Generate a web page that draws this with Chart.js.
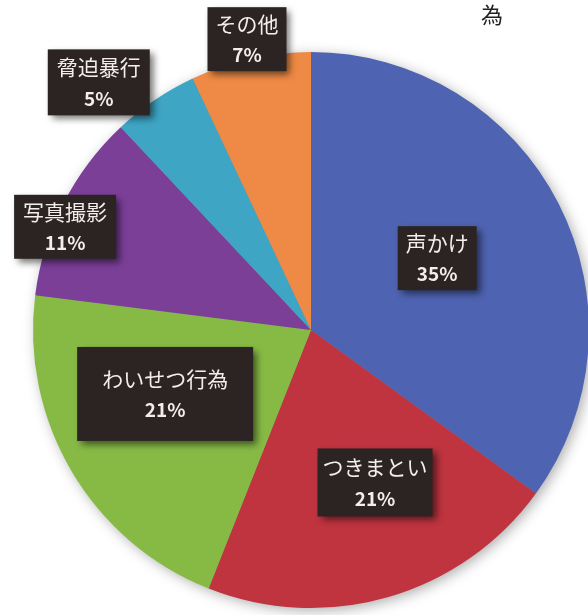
<!DOCTYPE html>
<html lang="ja">
<head>
<meta charset="utf-8">
<title>被害内容の内訳</title>
<script src="https://cdn.jsdelivr.net/npm/chart.js@4.4.1/dist/chart.umd.min.js"></script>
<style>
    html, body { margin: 0; padding: 0; background: #ffffff; overflow: hidden; }
    #wrap { position: relative; width: 588px; height: 615px; }
</style>
</head>
<body>
<div id="wrap"><canvas id="pieChart" width="588" height="615"></canvas></div>
<script>
// Data (clockwise from 12 o'clock)
const categories = ['声かけ', 'つきまとい', 'わいせつ行為', '写真撮影', '脅迫暴行', 'その他'];
const shares = [35, 21, 21, 11, 5, 7];
const sliceColors = ['#4e63b1', '#bf343f', '#87ba45', '#7b3f98', '#3ea5c4', '#ee8a45'];

// Label placement: distance from centre along the slice's mid-angle, then a pixel nudge
const labelRadius = [145, 165, 159, 267, 326, 298];
const labelNudge = [[-3, -6], [18, -6], [-9, -17], [-8, 18], [-29, 22], [1, 0]];
const labelPad = [[8, 0], [5, 2], [25, 15], [9, 0], [9, 1], [8, 0]];

const FONT = '"Noto Sans CJK JP", "Noto Sans", sans-serif';

// Soft shadow behind the whole pie
const pieShadow = {
    id: 'pieShadow',
    beforeDatasetsDraw(chart) {
        const arc = chart.getDatasetMeta(0).data[0];
        if (!arc) return;
        const ctx = chart.ctx;
        ctx.save();
        ctx.shadowColor = 'rgba(0,0,0,0.35)';
        ctx.shadowBlur = 14;
        ctx.shadowOffsetX = 3;
        ctx.shadowOffsetY = 3;
        ctx.fillStyle = '#888';
        ctx.beginPath();
        ctx.arc(arc.x, arc.y, arc.outerRadius - 1, 0, Math.PI * 2);
        ctx.fill();
        ctx.restore();
    }
};

// Dark boxed data labels like the original
const boxLabels = {
    id: 'boxLabels',
    afterDatasetsDraw(chart) {
        const ctx = chart.ctx;
        const meta = chart.getDatasetMeta(0);
        const total = shares.reduce((a, b) => a + b, 0);

        meta.data.forEach((arc, i) => {
            const mid = (arc.startAngle + arc.endAngle) / 2;
            const cx = arc.x + Math.cos(mid) * labelRadius[i] + labelNudge[i][0];
            const cy = arc.y + Math.sin(mid) * labelRadius[i] + labelNudge[i][1];

            const name = categories[i];
            const pct = Math.round(shares[i] / total * 100) + '%';

            ctx.save();
            ctx.font = '21px ' + FONT;
            const w1 = ctx.measureText(name).width;
            ctx.font = 'bold 19px ' + FONT;
            const w2 = ctx.measureText(pct).width;
            const boxW = Math.max(w1, w2) + labelPad[i][0] * 2;
            const boxH = 64 + labelPad[i][1] * 2;

            ctx.shadowColor = 'rgba(0,0,0,0.55)';
            ctx.shadowBlur = 7;
            ctx.shadowOffsetX = 4;
            ctx.shadowOffsetY = 4;
            ctx.fillStyle = '#2b2422';
            ctx.fillRect(cx - boxW / 2, cy - boxH / 2, boxW, boxH);
            ctx.restore();

            ctx.save();
            ctx.fillStyle = '#f1eeeb';
            ctx.textAlign = 'center';
            ctx.textBaseline = 'middle';
            ctx.font = '21px ' + FONT;
            ctx.fillText(name, cx, cy - 15);
            ctx.font = 'bold 19px ' + FONT;
            ctx.fillText(pct, cx, cy + 16);
            ctx.restore();
        });
    }
};

// Cut-off title fragment at the top right
const titleFragment = {
    id: 'titleFragment',
    afterDraw(chart) {
        const ctx = chart.ctx;
        ctx.save();
        ctx.fillStyle = '#222';
        ctx.font = '22px ' + FONT;
        ctx.textAlign = 'center';
        ctx.textBaseline = 'middle';
        ctx.fillText('為', 492, 15);
        ctx.restore();
    }
};

const chart = new Chart(document.getElementById('pieChart'), {
    type: 'pie',
    data: {
        labels: categories,
        datasets: [{
            data: shares,
            backgroundColor: sliceColors,
            borderWidth: 0,
            radius: 278
        }]
    },
    options: {
        responsive: false,
        animation: false,
        layout: {
            padding: { left: 34, right: 0, top: 45, bottom: 0 }
        },
        plugins: {
            legend: { display: false },
            tooltip: { enabled: false },
            title: { display: false }
        }
    },
    plugins: [pieShadow, boxLabels, titleFragment]
});
</script>
</body>
</html>
